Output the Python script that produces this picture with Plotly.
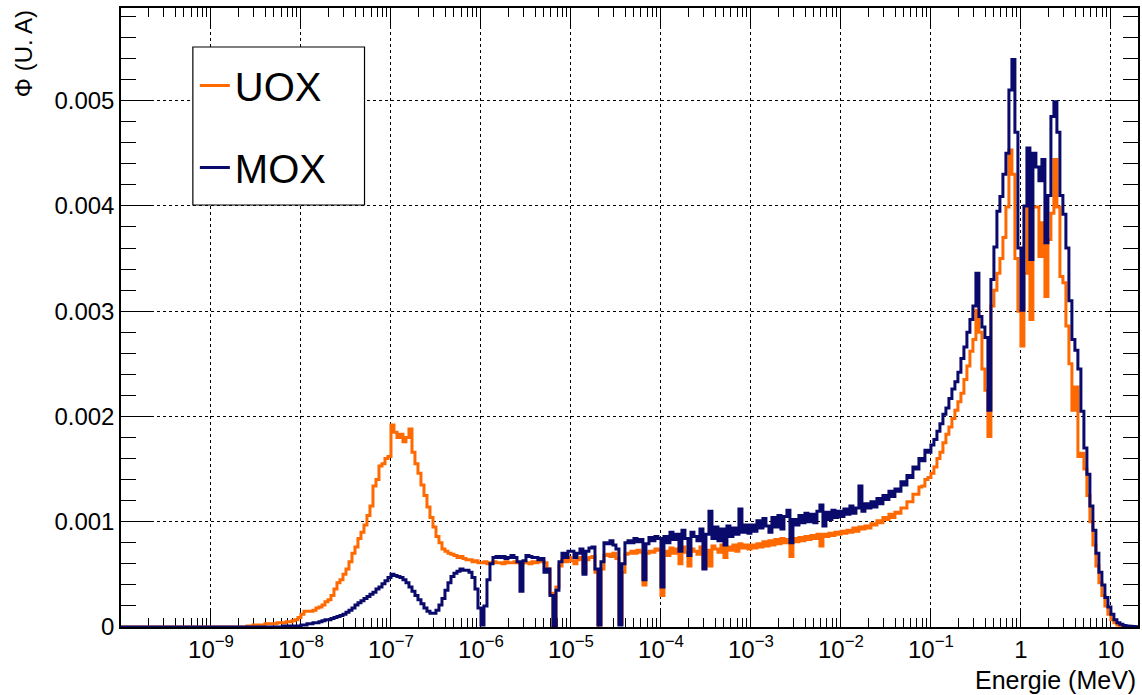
import numpy as np
import plotly.graph_objects as go

# Histogram binning: 30 log-spaced bins per decade starting at 1e-10 MeV
LOG_E_MIN = -10.0
BINS_PER_DECADE = 30

# Flux per bin (U. A), one row per decade
uox_flux = [
    # 1e-10 .. 1e-9
    0.0, 0.0, 0.0, 0.0, 0.0, 0.0, 0.0, 0.0, 0.0, 0.0, 0.0, 0.0, 0.0, 0.0, 0.0,
    0.0, 0.0, 0.0, 0.0, 0.0, 0.0, 0.0, 0.0, 0.0, 0.0, 0.0, 0.0, 0.0, 0.0, 0.0,
    # 1e-9 .. 1e-8
    0.0, 0.0, 0.0, 0.0, 0.0, 0.0, 0.0, 0.0, 0.0, 0.0, 0.0, 0.0,
    0.00001, 0.00001, 0.00002, 0.00002, 0.00002, 0.00002,
    0.00003, 0.00003, 0.00003, 0.00003, 0.00004, 0.00004,
    0.00004, 0.00005, 0.00005, 0.00006, 0.00007, 0.00009,
    # 1e-8 .. 1e-7
    0.00012, 0.00015, 0.00015, 0.00015, 0.00016, 0.00018, 0.00019, 0.00021, 0.00024, 0.00026,
    0.00030, 0.00036, 0.00042, 0.00045, 0.00050, 0.00055, 0.00062, 0.00070, 0.00076, 0.00084,
    0.00090, 0.00097, 0.00106, 0.00115, 0.00134, 0.00140, 0.00153, 0.00155, 0.00160, 0.00162,
    # 1e-7 .. 1e-6
    0.00192, 0.00185, 0.00180, 0.00183, 0.00176, 0.00180, 0.00188, 0.00166, 0.00155, 0.00146,
    0.00135, 0.00125, 0.00114, 0.00104, 0.00095, 0.00086, 0.00080, 0.00074, 0.00072, 0.00070,
    0.00069, 0.00068, 0.00066, 0.00067, 0.00065, 0.00064, 0.00064, 0.00062, 0.00063, 0.00061,
    # 1e-6 .. 1e-5
    0.00061, 0.00062, 0.00060, 0.00061, 0.00062, 0.00061, 0.00061, 0.00060, 0.00062, 0.00061,
    0.00061, 0.00062, 0.00061, 0.00060, 0.00062, 0.00061, 0.00060, 0.00062, 0.00061, 0.00063,
    0.00062, 0.00061, 0.00055, 0.00032, 0.00000, 0.00038, 0.00058, 0.00064, 0.00062, 0.00066,
    # 1e-5 .. 1e-4
    0.00063, 0.00060, 0.00064, 0.00066, 0.00052, 0.00064, 0.00066, 0.00067, 0.00052, 0.00002,
    0.00055, 0.00068, 0.00069, 0.00067, 0.00070, 0.00065, 0.00003, 0.00052, 0.00069, 0.00070,
    0.00072, 0.00070, 0.00073, 0.00071, 0.00040, 0.00070, 0.00072, 0.00071, 0.00074, 0.00073,
    # 1e-4 .. 1e-3
    0.00030, 0.00072, 0.00068, 0.00075, 0.00070, 0.00074, 0.00060, 0.00076, 0.00071, 0.00058,
    0.00074, 0.00072, 0.00069, 0.00076, 0.00056, 0.00073, 0.00058, 0.00077, 0.00074, 0.00071,
    0.00078, 0.00066, 0.00076, 0.00073, 0.00078, 0.00072, 0.00079, 0.00075, 0.00078, 0.00074,
    # 1e-3 .. 1e-2
    0.00078, 0.00075, 0.00079, 0.00076, 0.00081, 0.00077, 0.00082, 0.00078, 0.00083, 0.00079,
    0.00084, 0.00080, 0.00083, 0.00067, 0.00084, 0.00081, 0.00085, 0.00082, 0.00086, 0.00083,
    0.00087, 0.00084, 0.00088, 0.00077, 0.00088, 0.00086, 0.00089, 0.00087, 0.00090, 0.00088,
    # 1e-2 .. 1e-1
    0.00091, 0.00089, 0.00092, 0.00090, 0.00094, 0.00091, 0.00095, 0.00093, 0.00096, 0.00094,
    0.00098, 0.00097, 0.00101, 0.00099, 0.00104, 0.00102, 0.00107, 0.00104, 0.00109, 0.00108,
    0.00113, 0.00113, 0.00119, 0.00119, 0.00126, 0.00126, 0.00133, 0.00134, 0.00140, 0.00142,
    # 1e-1 .. 1
    0.00146, 0.00152, 0.00160, 0.00166, 0.00175, 0.00183, 0.00190, 0.00198, 0.00206, 0.00214,
    0.00222, 0.00235, 0.00248, 0.00262, 0.00273, 0.00301, 0.00280, 0.00245, 0.00225, 0.00181,
    0.00305, 0.00320, 0.00336, 0.00350, 0.00370, 0.00399, 0.00453, 0.00430, 0.00350, 0.00300,
    # 1 .. 10
    0.00267, 0.00336, 0.00399, 0.00292, 0.00399, 0.00399, 0.00352, 0.00384, 0.00314, 0.00368,
    0.00393, 0.00444, 0.00399, 0.00333, 0.00327, 0.00286, 0.00250, 0.00206, 0.00228, 0.00162,
    0.00165, 0.00150, 0.00125, 0.00100, 0.00078, 0.00058, 0.00042, 0.00030, 0.00020, 0.00012,
    # 10 .. 20
    0.00007, 0.00004, 0.00002, 0.000012, 0.000008, 0.000005, 0.000003, 0.000002, 0.000001, 0.000001, 0.0,
]

mox_flux = [
    # 1e-10 .. 1e-9
    0.0, 0.0, 0.0, 0.0, 0.0, 0.0, 0.0, 0.0, 0.0, 0.0, 0.0, 0.0, 0.0, 0.0, 0.0,
    0.0, 0.0, 0.0, 0.0, 0.0, 0.0, 0.0, 0.0, 0.0, 0.0, 0.0, 0.0, 0.0, 0.0, 0.0,
    # 1e-9 .. 1e-8
    0.0, 0.0, 0.0, 0.0, 0.0, 0.0, 0.0, 0.0, 0.0, 0.0, 0.0, 0.0,
    0.0, 0.0, 0.0, 0.0, 0.0, 0.0, 0.0, 0.0, 0.0, 0.0, 0.0, 0.0,
    0.00001, 0.00001, 0.00001, 0.00001, 0.00001, 0.00001,
    # 1e-8 .. 1e-7
    0.00002, 0.00002, 0.00003, 0.00003, 0.00004, 0.00004, 0.00005, 0.00006, 0.00007, 0.00007,
    0.00008, 0.00009, 0.00010, 0.00011, 0.00012, 0.00014, 0.00016, 0.00018, 0.00021, 0.00023,
    0.00025, 0.00027, 0.00029, 0.00031, 0.00033, 0.00036, 0.00038, 0.00041, 0.00044, 0.00047,
    # 1e-7 .. 1e-6
    0.00050, 0.00049, 0.00048, 0.00047, 0.00045, 0.00042, 0.00038, 0.00034, 0.00030, 0.00026,
    0.00022, 0.00018, 0.00015, 0.00013, 0.00013, 0.00016, 0.00021, 0.00027, 0.00035, 0.00042,
    0.00048, 0.00051, 0.00053, 0.00055, 0.00054, 0.00054, 0.00052, 0.00047, 0.00036, 0.00018,
    # 1e-6 .. 1e-5
    0.00002, 0.00020, 0.00045, 0.00060, 0.00066, 0.00067, 0.00066, 0.00067, 0.00065, 0.00066,
    0.00068, 0.00066, 0.00062, 0.00034, 0.00063, 0.00068, 0.00067, 0.00066, 0.00066, 0.00064,
    0.00065, 0.00052, 0.00055, 0.00030, 0.00000, 0.00035, 0.00062, 0.00070, 0.00066, 0.00072,
    # 1e-5 .. 1e-4
    0.00072, 0.00066, 0.00070, 0.00074, 0.00050, 0.00072, 0.00075, 0.00076, 0.00055, 0.00002,
    0.00062, 0.00080, 0.00079, 0.00082, 0.00078, 0.00074, 0.00002, 0.00060, 0.00080, 0.00082,
    0.00080, 0.00084, 0.00081, 0.00083, 0.00045, 0.00079, 0.00085, 0.00082, 0.00086, 0.00084,
    # 1e-4 .. 1e-3
    0.00038, 0.00086, 0.00080, 0.00090, 0.00083, 0.00088, 0.00072, 0.00092, 0.00084, 0.00068,
    0.00090, 0.00086, 0.00082, 0.00093, 0.00055, 0.00088, 0.00110, 0.00084, 0.00095, 0.00082,
    0.00093, 0.00078, 0.00096, 0.00086, 0.00094, 0.00088, 0.00112, 0.00090, 0.00097, 0.00089,
    # 1e-3 .. 1e-2
    0.00097, 0.00091, 0.00101, 0.00094, 0.00103, 0.00096, 0.00090, 0.00104, 0.00095, 0.00106,
    0.00093, 0.00105, 0.00111, 0.00080, 0.00102, 0.00097, 0.00106, 0.00099, 0.00108, 0.00100,
    0.00107, 0.00099, 0.00110, 0.00116, 0.00096, 0.00109, 0.00102, 0.00111, 0.00104, 0.00110,
    # 1e-2 .. 1e-1
    0.00105, 0.00112, 0.00107, 0.00115, 0.00108, 0.00113, 0.00134, 0.00110, 0.00117, 0.00113,
    0.00119, 0.00114, 0.00122, 0.00117, 0.00125, 0.00121, 0.00129, 0.00124, 0.00131, 0.00129,
    0.00138, 0.00135, 0.00144, 0.00142, 0.00152, 0.00150, 0.00160, 0.00158, 0.00168, 0.00166,
    # 1e-1 .. 1
    0.00173, 0.00178, 0.00186, 0.00193, 0.00202, 0.00208, 0.00217, 0.00226, 0.00233, 0.00242,
    0.00255, 0.00266, 0.00280, 0.00292, 0.00305, 0.00336, 0.00295, 0.00285, 0.00275, 0.00206,
    0.00330, 0.00361, 0.00395, 0.00409, 0.00430, 0.00450, 0.00510, 0.00539, 0.00470, 0.00360,
    # 1 .. 10
    0.00301, 0.00400, 0.00455, 0.00349, 0.00450, 0.00437, 0.00424, 0.00444, 0.00365, 0.00410,
    0.00485, 0.00499, 0.00470, 0.00410, 0.00392, 0.00360, 0.00310, 0.00273, 0.00263, 0.00245,
    0.00205, 0.00170, 0.00145, 0.00115, 0.00092, 0.00070, 0.00052, 0.00040, 0.00028, 0.00019,
    # 10 .. 20
    0.00012, 0.00007, 0.00004, 0.000025, 0.000015, 0.00001, 0.000006, 0.000004, 0.000003, 0.000002, 0.000001,
]

x_tick_vals = [1e-9, 1e-8, 1e-7, 1e-6, 1e-5, 1e-4, 1e-3, 1e-2, 1e-1, 1, 10]
x_tick_text = ["10<sup>\u22129</sup>", "10<sup>\u22128</sup>", "10<sup>\u22127</sup>",
               "10<sup>\u22126</sup>", "10<sup>\u22125</sup>", "10<sup>\u22124</sup>",
               "10<sup>\u22123</sup>", "10<sup>\u22122</sup>", "10<sup>\u22121</sup>",
               "1", "10"]
y_tick_vals = [0, 0.001, 0.002, 0.003, 0.004, 0.005]
y_tick_text = ["0", "0.001", "0.002", "0.003", "0.004", "0.005"]

n_bins = len(uox_flux)
edges = 10 ** (LOG_E_MIN + np.arange(n_bins + 1) / BINS_PER_DECADE)

FONT = "Liberation Sans, Arial, Helvetica, sans-serif"
UOX_COLOR = "#ff6a00"
MOX_COLOR = "#0a0a6c"

W, H = 1142, 695
ML, MR, MT, MB = 121, 2, 8, 68
PW, PH = W - ML - MR, H - MT - MB


def px_to_paper(px, py):
    return (px - ML) / PW, (H - MB - py) / PH


fig = go.Figure()
for name, vals, col, grp in [("UOX", uox_flux, UOX_COLOR, "a"), ("MOX", mox_flux, MOX_COLOR, "b")]:
    fig.add_trace(go.Scatter(
        x=edges, y=list(vals) + [vals[-1]], mode="lines", name=name,
        line=dict(color=col, width=3, shape="hv"), legendgroup=grp,
    ))

axis_common = dict(
    showline=True, linecolor="black", linewidth=1.5, mirror="allticks",
    ticks="inside", tickcolor="black", tickwidth=1,
    showgrid=True, gridcolor="black", griddash="dot", gridwidth=1,
    zeroline=False, layer="below traces",
    tickfont=dict(family=FONT, size=24, color="black"),
)

fig.update_xaxes(
    type="log", range=[-10, np.log10(20)],
    tickmode="array", tickvals=x_tick_vals, ticktext=x_tick_text,
    ticklen=18,
    minor=dict(ticks="inside", ticklen=9, dtick="D1", tickcolor="black", showgrid=False),
    **axis_common,
)
fig.update_yaxes(
    range=[0, 0.00588],
    tickmode="array", tickvals=y_tick_vals, ticktext=y_tick_text,
    ticklen=31,
    minor=dict(ticks="inside", ticklen=15, dtick=0.0002, tickcolor="black", showgrid=False),
    **axis_common,
)

fig.add_annotation(
    text="Energie (MeV)", xref="paper", yref="paper", x=1.0, y=-0.085,
    xanchor="right", yanchor="middle", showarrow=False,
    font=dict(family=FONT, size=25, color="black"),
)
fig.add_annotation(
    text="Φ (U. A)", xref="paper", yref="paper", x=-0.096, y=0.926,
    xanchor="center", yanchor="middle", showarrow=False, textangle=-90,
    font=dict(family=FONT, size=24, color="black"),
)

# legend frame (box drawn as a shape so its size matches the original)
bx0, by0 = px_to_paper(193, 205)
bx1, by1 = px_to_paper(365, 47)
fig.add_shape(type="rect", xref="paper", yref="paper", x0=bx0, y0=by0, x1=bx1, y1=by1,
              line=dict(color="black", width=1.2), fillcolor="white", layer="above")
lx, ly = px_to_paper(195, 53)

fig.update_layout(
    width=W, height=H,
    margin=dict(l=ML, r=MR, t=MT, b=MB),
    paper_bgcolor="white", plot_bgcolor="white",
    showlegend=True,
    legend=dict(
        x=lx, y=ly, xanchor="left", yanchor="top",
        font=dict(family=FONT, size=40, color="black"),
        bgcolor="rgba(0,0,0,0)", borderwidth=0,
        tracegroupgap=27, itemwidth=30,
    ),
)

fig.write_html("out.html", config={"displayModeBar": False},
               post_script="document.body.style.margin='0px';")
